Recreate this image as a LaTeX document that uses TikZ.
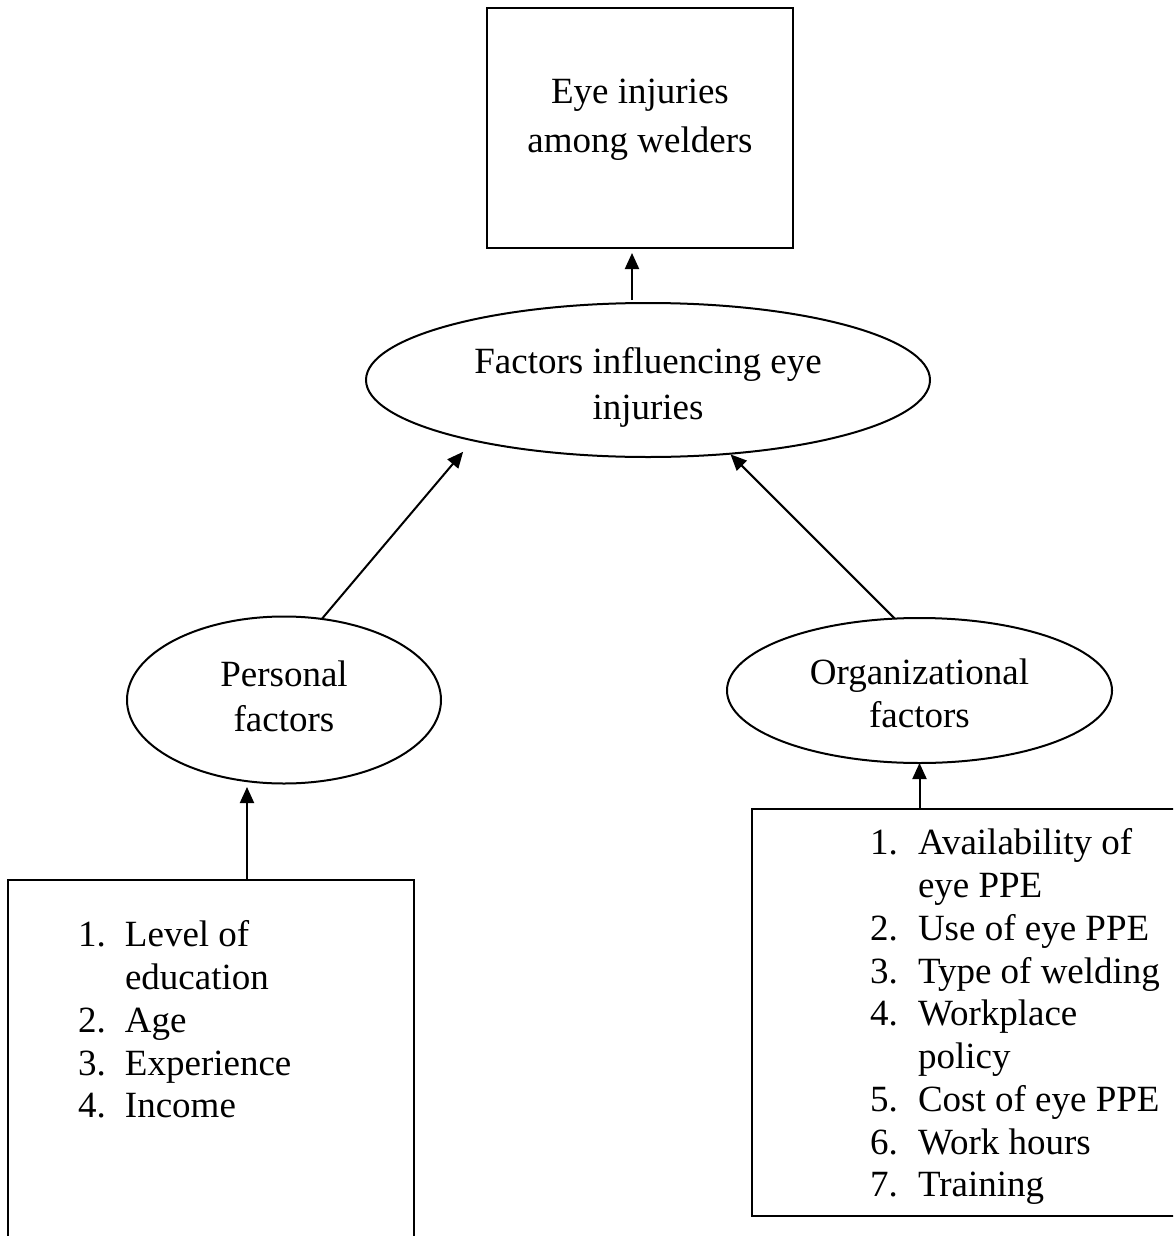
\documentclass[tikz,border=0pt]{standalone}
\usepackage{fontspec}
\setmainfont{Liberation Serif}
\usetikzlibrary{shapes.geometric,arrows.meta}
\begin{document}
\begin{tikzpicture}[x=1pt,y=-1pt,
  every node/.style={inner sep=0pt, outer sep=0pt},
  box/.style={draw, line width=2pt, rectangle},
  oval/.style={draw, line width=2pt, ellipse},
  arr/.style={line width=2pt, -{Triangle[length=16pt,width=14pt]}},
  listtext/.style={anchor=north west, font=\fontsize{37}{42.75}\selectfont}
]
\useasboundingbox (0,0) rectangle (1173,1236);
\clip (0,0) rectangle (1173,1236);

% top box
\node[box, minimum width=306pt, minimum height=240pt, font=\fontsize{37}{49}\selectfont] (top) at (640,128)
  {\raisebox{10pt}[\height][\depth]{\begin{tabular}{@{}c@{}}Eye injuries\\among welders\end{tabular}}};

% central ellipse
\node[oval, minimum width=564pt, minimum height=154pt, font=\fontsize{37}{46}\selectfont] (big) at (648,380)
  {\raisebox{-7pt}[\height][\depth]{\begin{tabular}{@{}c@{}}Factors influencing eye\\injuries\end{tabular}}};

% personal ellipse
\node[oval, minimum width=314pt, minimum height=167pt, font=\fontsize{37}{45}\selectfont] (pers) at (284,700)
  {\begin{tabular}{@{}c@{}}Personal\\factors\end{tabular}};

% organizational ellipse
\node[oval, minimum width=385pt, minimum height=145pt, font=\fontsize{37}{43}\selectfont] (org) at (919.5,690.5)
  {\raisebox{-7pt}[\height][\depth]{\begin{tabular}{@{}c@{}}Organizational\\factors\end{tabular}}};

% left box (open at the bottom of the picture)
\node[box, minimum width=406pt, minimum height=440pt] (lbox) at (211,1100) {};
\node[listtext] (plist) at (78,917)
  {\begin{tabular}{@{}p{47pt}@{}l@{}}
   1. & Level of\\
      & education\\
   2. & Age\\
   3. & Experience\\
   4. & Income
   \end{tabular}};

% right box (runs past the right edge)
\node[box, minimum width=440pt, minimum height=407pt] (rbox) at (972,1012.5) {};
\node[listtext] (olist) at (870,825)
  {\begin{tabular}{@{}p{48pt}@{}l@{}}
   1. & Availability of\\
      & eye PPE\\
   2. & Use of eye PPE\\
   3. & Type of welding\\
   4. & Workplace\\
      & policy\\
   5. & Cost of eye PPE\\
   6. & Work hours\\
   7. & Training
   \end{tabular}};

% connectors
\coordinate (ta) at ([xshift=-16pt,yshift=3pt]big.north);
\draw[arr, shorten >=5pt] (ta) -- (ta |- top.south);
\draw[arr, shorten >=15pt] (pers.65) -- (big.199);
\draw[arr, shorten >=1pt] (org.109) -- (big.318.5);
\coordinate (la) at ([xshift=36pt]lbox.north);
\draw[arr, shorten >=3.5pt] (la) -- (la |- pers.south);
\draw[arr] (rbox.north -| org.south) -- (org.south);
\end{tikzpicture}
\end{document}
